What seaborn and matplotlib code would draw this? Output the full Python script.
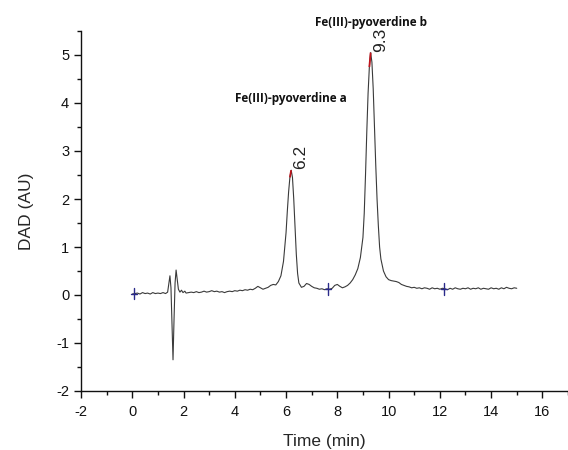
import numpy as np
import pandas as pd
import seaborn as sns
import matplotlib
matplotlib.use("Agg")
import matplotlib.pyplot as plt
from matplotlib.ticker import MultipleLocator

time_min = [
    0.0, 0.1, 0.2, 0.3, 0.4, 0.5, 0.6, 0.7, 0.8, 0.9, 1.0, 1.1, 1.2, 1.3,
    1.38, 1.43, 1.47, 1.51, 1.55, 1.59, 1.63, 1.67, 1.71, 1.75, 1.80, 1.86,
    1.92, 1.98, 2.05, 2.1, 2.2, 2.3, 2.4, 2.5, 2.6, 2.7, 2.8, 2.9, 3.0, 3.1,
    3.2, 3.3, 3.4, 3.5, 3.6, 3.7, 3.8, 3.9, 4.0, 4.1, 4.2, 4.3, 4.4, 4.5,
    4.6, 4.7, 4.8, 4.9, 5.0, 5.1, 5.2, 5.3, 5.4, 5.5, 5.6, 5.7, 5.8, 5.9,
    6.0, 6.05, 6.1, 6.15, 6.2, 6.25, 6.3, 6.35, 6.4, 6.45, 6.5, 6.6, 6.7,
    6.8, 6.9, 7.0, 7.1, 7.2, 7.3, 7.4, 7.5, 7.6, 7.7, 7.8, 7.9, 8.0, 8.1,
    8.2, 8.3, 8.4, 8.5, 8.6, 8.7, 8.8, 8.9, 9.0, 9.05, 9.1, 9.15, 9.2, 9.25,
    9.3, 9.35, 9.4, 9.45, 9.5, 9.55, 9.6, 9.65, 9.7, 9.8, 9.9, 10.0, 10.1,
    10.2, 10.3, 10.4, 10.5, 10.6, 10.7, 10.8, 10.9, 11.0, 11.1, 11.2, 11.3,
    11.4, 11.5, 11.6, 11.7, 11.8, 11.9, 12.0, 12.1, 12.2, 12.3, 12.4, 12.5,
    12.6, 12.7, 12.8, 12.9, 13.0, 13.1, 13.2, 13.3, 13.4, 13.5, 13.6, 13.7,
    13.8, 13.9, 14.0, 14.1, 14.2, 14.3, 14.4, 14.5, 14.6, 14.7, 14.8, 14.9,
    15.0,
]
dad_au = [
    0.02, 0.03, 0.04, 0.02, 0.05, 0.03, 0.04, 0.02, 0.05, 0.03, 0.04, 0.03,
    0.05, 0.03, 0.06, 0.25, 0.40, 0.15, -0.60, -1.35, -0.50, 0.25, 0.52,
    0.35, 0.12, 0.06, 0.10, 0.05, 0.08, 0.04, 0.05, 0.06, 0.05, 0.07, 0.05,
    0.06, 0.08, 0.06, 0.07, 0.09, 0.07, 0.08, 0.06, 0.07, 0.05, 0.07, 0.08,
    0.07, 0.09, 0.08, 0.10, 0.09, 0.11, 0.10, 0.12, 0.11, 0.14, 0.18, 0.15,
    0.12, 0.14, 0.16, 0.20, 0.22, 0.21, 0.28, 0.40, 0.70, 1.30, 1.75, 2.15,
    2.45, 2.60, 2.45, 2.00, 1.40, 0.85, 0.45, 0.25, 0.16, 0.18, 0.24, 0.22,
    0.18, 0.15, 0.14, 0.12, 0.13, 0.11, 0.13, 0.12, 0.14, 0.20, 0.22, 0.18,
    0.15, 0.17, 0.20, 0.25, 0.32, 0.42, 0.55, 0.78, 1.20, 1.70, 2.50, 3.40,
    4.20, 4.75, 5.05, 4.85, 4.30, 3.50, 2.70, 2.00, 1.45, 1.00, 0.75, 0.50,
    0.38, 0.32, 0.30, 0.29, 0.28, 0.26, 0.22, 0.20, 0.18, 0.17, 0.15, 0.16,
    0.14, 0.15, 0.13, 0.15, 0.14, 0.12, 0.15, 0.13, 0.14, 0.12, 0.14, 0.13,
    0.11, 0.14, 0.12, 0.15, 0.13, 0.12, 0.14, 0.13, 0.15, 0.12, 0.14, 0.13,
    0.15, 0.12, 0.14, 0.13, 0.12, 0.15, 0.13, 0.14, 0.12, 0.15, 0.13, 0.16,
    0.14, 0.13, 0.15, 0.14,
]
marker_time = [0.08, 7.64, 12.17]
marker_au = [0.03, 0.13, 0.12]
peak_times = [6.2, 9.3]
peak_tops = [2.60, 5.05]
peak_labels = ["6.2", "9.3"]
compound_labels = ["Fe(III)-pyoverdine a", "Fe(III)-pyoverdine b"]
compound_pos = [(6.2, 4.1), (9.3, 5.68)]

sns.set_style("ticks")
plt.rcParams["font.family"] = ["Liberation Sans", "DejaVu Sans"]
plt.rcParams["axes.unicode_minus"] = False

fig = plt.figure(figsize=(5.68, 4.5), dpi=100)
ax = fig.add_axes([81 / 568, 1 - 391 / 450, (568 - 81) / 568, (391 - 31) / 450])

df = pd.DataFrame({"t": time_min, "y": dad_au})
sns.lineplot(data=df, x="t", y="y", ax=ax, color="#3a3a3a", lw=0.8)

# red peak tips
for pt, top in zip(peak_times, peak_tops):
    sub = df[(df["t"] >= pt - 0.06) & (df["t"] <= pt + 0.01) & (df["y"] > top * 0.9)]
    ax.plot(sub["t"], sub["y"], color="#c0141c", lw=1.3, solid_capstyle="butt")

# integration markers
for mt, ma in zip(marker_time, marker_au):
    ax.plot([mt, mt], [ma - 0.12, ma + 0.12], color="#2a2a8a", lw=1.0)
    ax.plot([mt - 0.12, mt + 0.12], [ma, ma], color="#2a2a8a", lw=1.0)

for pt, top, lab in zip(peak_times, peak_tops, peak_labels):
    ax.text(pt + 0.08, top + 0.02, lab, rotation=90, fontsize=12.5,
            ha="left", va="bottom", color="#222222", clip_on=False)

for lab, (cx, cy) in zip(compound_labels, compound_pos):
    ax.text(cx, cy, lab, fontsize=8.5, fontweight="bold", ha="center",
            va="center", color="#111111", clip_on=False,
            family=["Open Sans", "DejaVu Sans"])

ax.set_xlim(-2, 17)
ax.set_ylim(-2, 5.5)
ax.xaxis.set_major_locator(MultipleLocator(2))
ax.xaxis.set_minor_locator(MultipleLocator(1))
ax.yaxis.set_major_locator(MultipleLocator(1))
ax.yaxis.set_minor_locator(MultipleLocator(0.5))
ax.tick_params(which="major", direction="out", length=5, width=1,
               labelsize=10.5, colors="#111111")
ax.tick_params(axis="x", which="major", pad=5)
ax.tick_params(which="minor", direction="out", length=3, width=1, colors="#111111")
for s in ["left", "bottom"]:
    ax.spines[s].set_linewidth(1.0)
    ax.spines[s].set_color("#111111")
sns.despine(ax=ax)

ax.set_xlabel("Time (min)", fontsize=12.5, labelpad=11)
ax.set_ylabel("DAD (AU)", fontsize=12.5, labelpad=16)

fig.savefig("out.png", dpi=100)
